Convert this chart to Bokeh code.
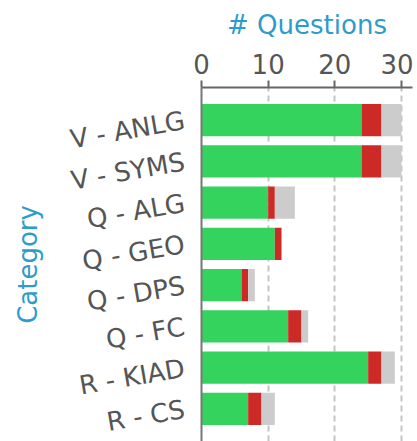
from bokeh.plotting import figure
from bokeh.models import FactorRange, Range1d, ColumnDataSource
from bokeh.embed import file_html
from bokeh.resources import INLINE

categories = ["V - ANLG", "V - SYMS", "Q - ALG", "Q - GEO", "Q - DPS", "Q - FC", "R - KIAD", "R - CS"]
correct = [24, 24, 10, 11, 6, 13, 25, 7]
wrong = [3, 3, 1, 1, 1, 2, 2, 2]
skipped = [3, 3, 3, 0, 1, 1, 2, 2]
series = ["correct", "wrong", "skipped"]
colors = ["#34d35e", "#cc2a26", "#cccccc"]
x_ticks = [0, 10, 20, 30]

source = ColumnDataSource(data=dict(category=categories, correct=correct, wrong=wrong, skipped=skipped))

FONT = "DejaVu Sans"
BLUE = "#2e9cca"
GRAY_TXT = "#555555"

p = figure(
    y_range=FactorRange(*reversed(categories), range_padding=0.29, range_padding_units="absolute"),
    x_range=Range1d(0, 31.65),
    x_axis_location="above",
    width=413, height=441,
    output_backend="svg", toolbar_location=None,
    min_border_left=201, min_border_top=87, min_border_bottom=0, min_border_right=1,
)

p.hbar_stack(series, y="category", height=0.78, color=colors, source=source, line_color=None)

p.outline_line_color = None
p.ygrid.grid_line_color = None
p.xgrid.grid_line_color = "#c4c4c4"
p.xgrid.grid_line_width = 2
p.xgrid.grid_line_dash = "6 4"
p.xgrid.ticker = x_ticks

xa = p.xaxis[0]
xa.ticker = x_ticks
xa.axis_label = "# Questions"
xa.axis_label_text_font = FONT
xa.axis_label_text_font_size = "26px"
xa.axis_label_text_font_style = "normal"
xa.axis_label_text_color = BLUE
xa.axis_label_standoff = 11
xa.major_label_text_font = FONT
xa.major_label_text_font_size = "26px"
xa.major_label_text_color = GRAY_TXT
xa.major_label_standoff = 7
xa.axis_line_color = "#666666"
xa.axis_line_width = 2
xa.major_tick_line_color = "#666666"
xa.major_tick_line_width = 2
xa.major_tick_out = 7
xa.major_tick_in = 0
xa.minor_tick_line_color = None

ya = p.yaxis[0]
ya.axis_label = "Category"
ya.axis_label_text_font = FONT
ya.axis_label_text_font_size = "26px"
ya.axis_label_text_font_style = "normal"
ya.axis_label_text_color = BLUE
ya.axis_label_standoff = 20
ya.major_label_text_font = FONT
ya.major_label_text_font_size = "26px"
ya.major_label_text_color = GRAY_TXT
ya.major_label_orientation = 0.17
ya.major_label_standoff = 11
ya.axis_line_color = "#777777"
ya.axis_line_width = 2
ya.major_tick_line_color = None
ya.minor_tick_line_color = None

open("out.html", "w").write(file_html(p, INLINE))
